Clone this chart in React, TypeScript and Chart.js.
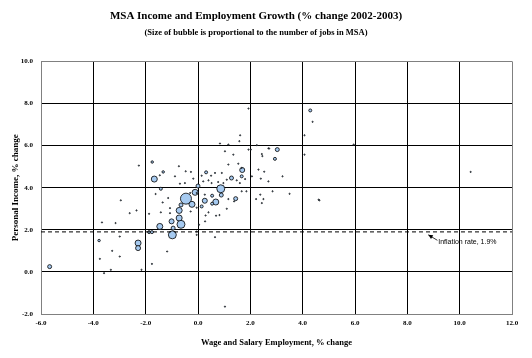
import React, { useEffect, useRef } from "react";
import { Chart, registerables } from "chart.js";

Chart.register(...registerables);

const TITLE = "MSA Income and Employment Growth (% change 2002-2003)";
const SUBTITLE = "(Size of bubble is proportional to the number of jobs in MSA)";
const X_LABEL = "Wage and Salary Employment, % change";
const Y_LABEL = "Personal Income, % change";
const X_MIN = -6;
const X_MAX = 12;
const X_STEP = 2;
const Y_MIN = -2;
const Y_MAX = 10;
const Y_STEP = 2;
const INFLATION = 1.9;
const INFLATION_LABEL = "Inflation rate, 1.9%";
const ARROW_TIP = [8.8, 1.76];
const ARROW_TAIL = [9.15, 1.5];
const LABEL_POS = [9.18, 1.4];

// Employment % change (x), personal income % change (y), jobs (thousands)
const empChange = [
  -1.67, 3.03, 2.94, 1.69, 1.67, 0.31, 1.28, 0.87, 0.89, 0.0, -0.11, -0.46, -0.23, 0.26, 0.54, 0.68, 0.54, 1.44,
  -1.42, -0.65, -0.72, -0.72, -0.65, -1.01, -1.46, -0.98, -2.29, -2.29, -5.67, 4.29, -0.95, -1.87, -1.76, 0.14,
  -2.95, -2.61, -2.35, -3.67, -3.15, -2.99, -3.78, -3.28, -2.99, -3.75, -3.33, -3.59, -2.16, -1.76, -1.87, -1.42,
  -1.07, -1.07, -1.35, 0.04, 0.29, 0.4, 0.69, 0.82, 1.1, -0.28, -0.05, 0.65, -0.05, -1.18, 1.03, 2.44, 1.38,
  -1.75, -1.46, -1.33, -0.73, -0.47, -0.27, -0.88, -0.18, -0.69, -0.5, -0.3, -1.14, -1.62, 0.84, 1.16, 1.58, 1.93,
  1.03, 1.35, 1.16, 1.54, 1.67, 0.14, 0.5, 0.65, 0.91, 0.2, 0.4, 0.52, 0.77, 0.97, 1.1, 1.48, 1.6, 1.8, 2.06,
  1.67, 1.85, -0.05, 0.26, 1.16, 1.93, 1.61, 2.02, 2.46, 2.69, -2.26, 2.25, 2.72, 2.44, 4.07, 4.38, 4.07, 2.31,
  2.53, 3.23, 2.4, 2.69, 2.85, 3.5, 2.38, 2.5, 2.22, 4.61, 4.64, 5.95, 10.42, 0.27, -0.05,
];
const incomeChange = [
  4.41, 5.81, 5.37, 4.84, 4.54, 4.73, 4.46, 3.95, 3.65, 4.08, 3.78, 3.48, 3.21, 3.38, 3.62, 3.32, 3.24, 3.48,
  3.95, 3.18, 2.92, 2.56, 2.26, 2.4, 2.16, 1.76, 1.37, 1.13, 0.25, 7.67, 2.08, 1.89, 1.89, 3.11,
  3.4, 2.79, 2.92, 2.35, 2.32, 1.68, 1.49, 1.0, 0.73, 0.62, 0.1, -0.06, 0.1, 0.38, 2.76, 2.83,
  3.03, 2.79, 3.3, 2.24, 2.68, 2.83, 2.67, 2.7, 3.0, 2.87, 3.05, 1.65, 1.76, 0.97, -1.65, 3.27, 3.35,
  5.22, 4.59, 4.75, 5.02, 4.78, 4.75, 4.54, 4.43, 4.19, 4.22, 3.75, 3.51, 3.7, 6.1, 6.05, 6.21, 5.81,
  5.73, 5.57, 5.1, 5.14, 4.94, 4.57, 4.57, 4.7, 4.7, 4.3, 4.35, 4.22, 4.27, 4.22, 4.38, 4.35, 4.22, 4.41, 4.54,
  3.83, 3.83, 3.75, 3.67, 3.46, 7.76, 6.49, 5.81, 5.5, 5.87, 5.05, 6.02, 5.86, 5.6, 6.49, 7.13, 5.57, 4.86,
  4.76, 4.54, 4.43, 4.3, 3.83, 3.71, 3.67, 3.46, 3.46, 3.43, 3.4, 6.05, 4.75, 2.4, 1.92,
];
const jobsK = [
  1200, 530, 300, 830, 300, 300, 530, 2100, 530, 530, 1200, 4000, 1200, 830, 300, 1200, 300, 530,
  300, 530, 1200, 1200, 2100, 830, 1200, 2100, 1200, 830, 530, 300, 530, 300, 300, 300,
  40, 40, 40, 40, 40, 40, 200, 40, 40, 40, 40, 40, 40, 40, 40, 40,
  40, 40, 40, 40, 40, 40, 40, 40, 40, 40, 40, 40, 40, 40, 40, 40, 40,
  200, 40, 200, 40, 40, 40, 40, 40, 40, 40, 40, 40, 40, 40, 40, 40, 40,
  40, 40, 40, 40, 40, 40, 40, 40, 40, 40, 40, 40, 40, 40, 40, 40, 40, 40, 40,
  40, 40, 40, 40, 40, 40, 40, 40, 40, 40, 40, 40, 40, 40, 40, 40, 40, 40,
  40, 40, 40, 40, 40, 40, 40, 40, 40, 40, 40, 40, 40, 40, 40,
];

const SERIF = "'Liberation Serif', 'Times New Roman', serif";
const SANS = "'Liberation Sans', Arial, sans-serif";
const BUBBLE_FILL = "#A6CAF0";
const GRID = "#000000";
const FRAME = "#808080";

const bubbleRadius = (jobs: number) => Math.max(0.6, 5.5 * Math.sqrt(jobs / 4000));

const annotationPlugin = {
  id: "inflationNote",
  afterDatasetsDraw(chart: any) {
    const { ctx, scales } = chart;
    const x = scales.x;
    const y = scales.y;
    const tx = x.getPixelForValue(ARROW_TIP[0]);
    const ty = y.getPixelForValue(ARROW_TIP[1]);
    const sx = x.getPixelForValue(ARROW_TAIL[0]);
    const sy = y.getPixelForValue(ARROW_TAIL[1]);
    ctx.save();
    ctx.strokeStyle = "#000";
    ctx.fillStyle = "#000";
    ctx.lineWidth = 0.8;
    ctx.beginPath();
    ctx.moveTo(sx, sy);
    ctx.lineTo(tx, ty);
    ctx.stroke();
    const ang = Math.atan2(ty - sy, tx - sx);
    const len = 5;
    ctx.beginPath();
    ctx.moveTo(tx, ty);
    ctx.lineTo(tx - len * Math.cos(ang - 0.45), ty - len * Math.sin(ang - 0.45));
    ctx.lineTo(tx - len * Math.cos(ang + 0.45), ty - len * Math.sin(ang + 0.45));
    ctx.closePath();
    ctx.fill();
    ctx.font = `7px ${SANS}`;
    ctx.textAlign = "left";
    ctx.textBaseline = "middle";
    ctx.fillText(INFLATION_LABEL, x.getPixelForValue(LABEL_POS[0]), y.getPixelForValue(LABEL_POS[1]));
    ctx.restore();
  },
};

export default function App() {
  const ref = useRef<HTMLCanvasElement | null>(null);
  useEffect(() => {
    if (!ref.current) return;
    const points = empChange.map((v, i) => ({ x: v, y: incomeChange[i], r: bubbleRadius(jobsK[i]) }));
    const edgeColor = (min: number, max: number) => (ctx: any) =>
      ctx.tick && (ctx.tick.value === min || ctx.tick.value === max) ? FRAME : GRID;
    const chart = new Chart(ref.current, {
      type: "bubble",
      data: {
        datasets: [
          {
            type: "line",
            label: "Inflation",
            data: [
              { x: X_MIN, y: INFLATION },
              { x: X_MAX, y: INFLATION },
            ],
            borderColor: "#000",
            borderWidth: 1,
            borderDash: [4, 3],
            pointRadius: 0,
            fill: false,
          } as any,
          {
            label: "MSA",
            data: points,
            backgroundColor: BUBBLE_FILL,
            borderColor: "#000",
            borderWidth: 0.8,
          },
        ],
      },
      options: {
        animation: false,
        responsive: false,
        events: [],
        layout: { padding: { left: 0, right: 20, top: 0, bottom: 0 } },
        plugins: {
          legend: { display: false },
          tooltip: { enabled: false },
          title: {
            display: true,
            text: TITLE,
            color: "#000",
            font: { family: SERIF, size: 11, weight: "bold", lineHeight: 1.2 },
            padding: { top: 10, bottom: 4 },
          },
          subtitle: {
            display: true,
            text: SUBTITLE,
            color: "#000",
            font: { family: SERIF, size: 8.5, weight: "bold", lineHeight: 1.2 },
            padding: { top: 0, bottom: 24 },
          },
        },
        scales: {
          x: {
            type: "linear",
            min: X_MIN,
            max: X_MAX,
            afterFit: (s: any) => {
              s.height = 44;
            },
            ticks: {
              stepSize: X_STEP,
              padding: 5,
              color: "#000",
              font: { family: SERIF, size: 7, weight: "bold" },
              callback: (v: any) => Number(v).toFixed(1),
              maxRotation: 0,
            },
            grid: { color: edgeColor(X_MIN, X_MAX), lineWidth: 1, drawTicks: false },
            border: { color: FRAME, width: 1 },
            title: {
              display: true,
              text: X_LABEL,
              color: "#000",
              font: { family: SERIF, size: 8.5, weight: "bold", lineHeight: 1.2 },
              padding: { top: 0, bottom: 9.8 },
            },
          },
          y: {
            type: "linear",
            min: Y_MIN,
            max: Y_MAX,
            afterFit: (s: any) => {
              s.width = 41;
            },
            ticks: {
              stepSize: Y_STEP,
              padding: 8,
              color: "#000",
              font: { family: SERIF, size: 7, weight: "bold" },
              callback: (v: any) => Number(v).toFixed(1),
            },
            grid: { color: edgeColor(Y_MIN, Y_MAX), lineWidth: 1, drawTicks: false },
            border: { color: FRAME, width: 1 },
            title: {
              display: true,
              text: Y_LABEL,
              color: "#000",
              font: { family: SERIF, size: 9, weight: "bold", lineHeight: 1.2 },
              padding: { top: 10.6, bottom: 0 },
            },
          },
        },
      },
      plugins: [annotationPlugin],
    } as any);
    return () => chart.destroy();
  }, []);
  return (
    <div style={{ position: "fixed", left: 0, top: 0, width: 532, height: 358, background: "#fff" }}>
      <canvas ref={ref} width={532} height={358} style={{ width: 532, height: 358, display: "block" }} />
    </div>
  );
}
